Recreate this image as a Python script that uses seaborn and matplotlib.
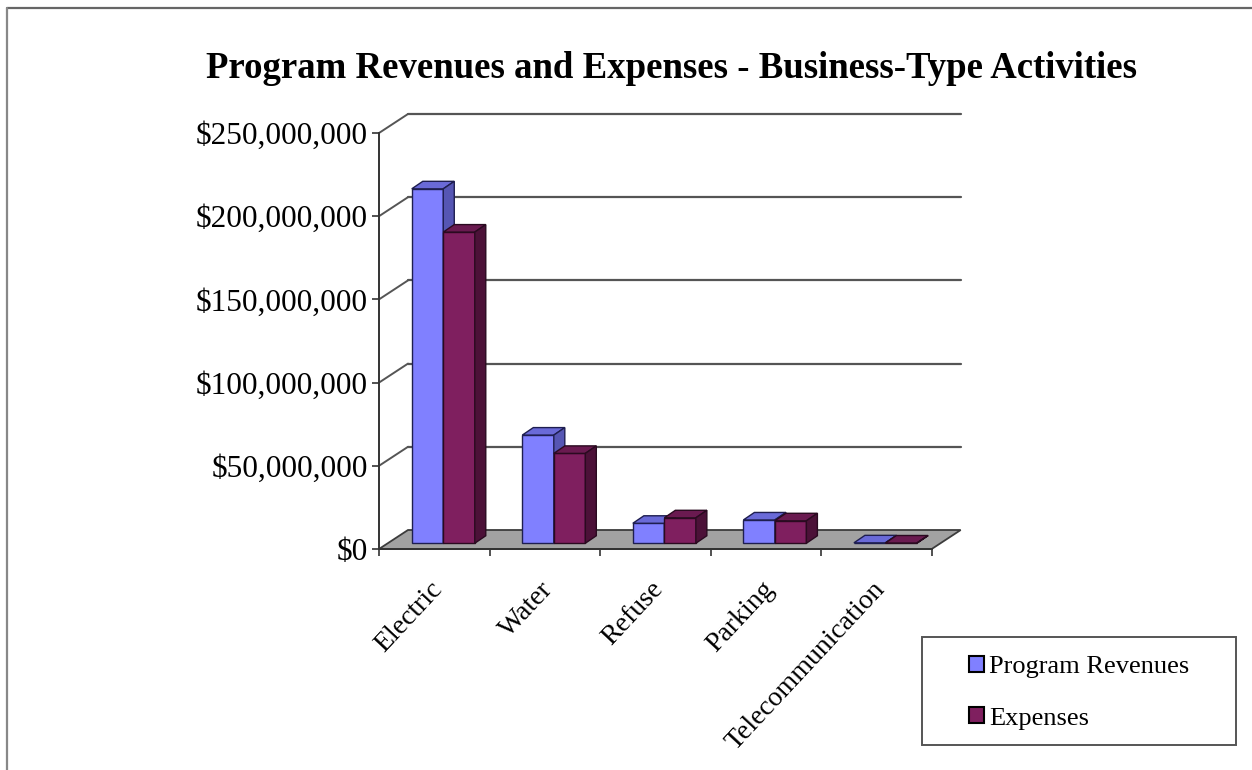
import matplotlib
matplotlib.use("Agg")
import matplotlib.pyplot as plt
import numpy as np
import pandas as pd
import seaborn as sns
from matplotlib.patches import Polygon, Rectangle, Patch
from matplotlib.lines import Line2D
from matplotlib.transforms import ScaledTranslation

# ---- data ---------------------------------------------------------------
categories = ["Electric", "Water", "Refuse", "Parking", "Telecommunication"]
program_revenues = [213_000_000, 65_000_000, 12_000_000, 14_000_000, 250_000]
expenses = [187_000_000, 54_000_000, 15_300_000, 13_500_000, 150_000]
series_names = ["Program Revenues", "Expenses"]
y_ticks = [0, 50_000_000, 100_000_000, 150_000_000, 200_000_000, 250_000_000]
title = "Program Revenues and Expenses - Business-Type Activities"

# ---- styling --------------------------------------------------------------
front_colors = {"Program Revenues": "#8080FF", "Expenses": "#7F1F5F"}
top_colors = {"Program Revenues": "#6A6AD8", "Expenses": "#6A1A50"}
side_colors = {"Program Revenues": "#5656B4", "Expenses": "#4C1138"}
edge_colors = {"Program Revenues": "#1E1E50", "Expenses": "#2A0A20"}

W, H, DPI = 1252, 770, 100
WALL = (29.0, 19.0)        # depth of the floor / back wall, in pixels
BAR_FRONT = (9.0, 5.75)    # front plane of the bars, in pixels
BAR_DEPTH = (11.0, 7.5)    # depth of each bar, in pixels

sns.set_theme(style="white")
plt.rcParams["font.family"] = ["Liberation Serif", "DejaVu Serif"]
plt.rcParams["text.color"] = "black"
plt.rcParams["xtick.color"] = "black"
plt.rcParams["ytick.color"] = "black"

fig = plt.figure(figsize=(W / DPI, H / DPI), dpi=DPI)
fig.patch.set_facecolor("white")


def px_rect(left, top, right, bottom):
    return [left / W, 1 - bottom / H, (right - left) / W, (bottom - top) / H]


ax = fig.add_axes(px_rect(379, 133, 931.7, 549))
ax.set_facecolor("none")

df = pd.DataFrame({
    "Category": categories * 2,
    "Series": [series_names[0]] * len(categories) + [series_names[1]] * len(categories),
    "Value": program_revenues + expenses,
})

sns.barplot(data=df, x="Category", y="Value", hue="Series", hue_order=series_names,
            order=categories, palette=front_colors, saturation=1, width=0.57,
            linewidth=1.0, edgecolor="#202020", legend=False, ax=ax)

ax.set_xlim(-0.5, len(categories) - 0.5)
ax.set_ylim(0, y_ticks[-1])
ax.set_xlabel("")
ax.set_ylabel("")
ax.grid(False)

to_fig = fig.transFigure.inverted()


def disp(x, y, off=(0.0, 0.0)):
    p = ax.transData.transform((x, y))
    return (p[0] + off[0], p[1] + off[1])


def add_poly(points, **kw):
    pts = to_fig.transform(np.array(points))
    poly = Polygon(pts, closed=True, transform=fig.transFigure, clip_on=False, **kw)
    ax.add_patch(poly)
    return poly


def add_line(p0, p1, **kw):
    pts = to_fig.transform(np.array([p0, p1]))
    ln = Line2D(pts[:, 0], pts[:, 1], transform=fig.transFigure, clip_on=False, **kw)
    ax.add_line(ln)
    return ln


x0_axis, x1_axis = -0.5, len(categories) - 0.5

# floor
add_poly([disp(x0_axis, 0), disp(x1_axis, 0), disp(x1_axis, 0, WALL), disp(x0_axis, 0, WALL)],
         facecolor="#A2A2A2", edgecolor="#3C3C3C", linewidth=1.3, zorder=0.5)

# back-wall gridlines and side-wall diagonals
for v in y_ticks[1:]:
    add_line(disp(x0_axis, v, WALL), disp(x1_axis, v, WALL), color="#555555", lw=1.6, zorder=0.6)
    add_line(disp(x0_axis, v), disp(x0_axis, v, WALL), color="#555555", lw=1.4, zorder=0.6)

# bars: move into their plane and give them top and side faces
shift = ScaledTranslation(BAR_FRONT[0] / DPI, BAR_FRONT[1] / DPI, fig.dpi_scale_trans)
for j, (name, cont) in enumerate(zip(series_names, ax.containers)):
    for bar in cont:
        bx, bw, bh = bar.get_x(), bar.get_width(), bar.get_height()
        i = int(round(bx + bw / 2))
        z = 2 + i * 0.1 + j * 0.03
        bar.set_transform(ax.transData + shift)
        bar.set_edgecolor(edge_colors[name])
        bar.set_zorder(z)
        fl = disp(bx, bh, BAR_FRONT)
        fr = disp(bx + bw, bh, BAR_FRONT)
        br = disp(bx + bw, 0, BAR_FRONT)
        d = BAR_DEPTH
        add_poly([fl, fr, (fr[0] + d[0], fr[1] + d[1]), (fl[0] + d[0], fl[1] + d[1])],
                 facecolor=top_colors[name], edgecolor=edge_colors[name], linewidth=1.0, zorder=z + 0.01)
        add_poly([fr, br, (br[0] + d[0], br[1] + d[1]), (fr[0] + d[0], fr[1] + d[1])],
                 facecolor=side_colors[name], edgecolor=edge_colors[name], linewidth=1.0, zorder=z + 0.01)

# axes lines and ticks
for s in ("top", "right"):
    ax.spines[s].set_visible(False)
for s in ("left", "bottom"):
    ax.spines[s].set_color("#333333")
    ax.spines[s].set_linewidth(1.4)
    ax.spines[s].set_zorder(0.7)

ax.set_yticks(y_ticks)
ax.set_yticklabels([f"${v:,.0f}" for v in y_ticks])
ax.tick_params(axis="y", which="major", left=True, direction="out", length=5, width=1.2,
               color="#333333", labelcolor="black", labelsize=22.5, pad=3)

ax.set_xticks(range(len(categories)))
ax.set_xticklabels(categories)
ax.set_xticks(np.arange(len(categories) + 1) - 0.5, minor=True)
ax.tick_params(axis="x", which="major", bottom=True, length=0, labelsize=20, pad=20,
               labelcolor="black")
ax.tick_params(axis="x", which="minor", bottom=True, direction="out", length=5, width=1.2,
               color="#333333")
label_shift = ScaledTranslation(-5 / DPI, 0, fig.dpi_scale_trans)
for lab in ax.get_xticklabels():
    lab.set_rotation(47)
    lab.set_ha("right")
    lab.set_va("top")
    lab.set_rotation_mode("anchor")
    lab.set_transform(lab.get_transform() + label_shift)

# title
fig.text(672 / W, 1 - 68 / H, title, ha="center", va="center", fontsize=26.5,
         fontweight="bold", color="black")

# legend
handles = [Patch(facecolor=front_colors[s], edgecolor="black", linewidth=1.5) for s in series_names]
leg = fig.legend(handles, series_names, loc="upper left", bbox_to_anchor=(969 / W, 1 - 656 / H),
                 frameon=False, fontsize=19, handlelength=0.55, handleheight=0.55,
                 handletextpad=0.2, labelspacing=1.1, borderpad=0, borderaxespad=0)
for t in leg.get_texts():
    t.set_color("black")
fig.add_artist(Rectangle((922 / W, 1 - 745 / H), 314 / W, 108 / H, transform=fig.transFigure,
                         facecolor="none", edgecolor="#555555", linewidth=1.4))

# chart-area border (top and left)
fig.add_artist(Line2D([7 / W, 1], [1 - 8 / H, 1 - 8 / H], transform=fig.transFigure,
                      color="#666666", lw=1.6))
fig.add_artist(Line2D([7 / W, 7 / W], [0, 1 - 8 / H], transform=fig.transFigure,
                      color="#888888", lw=1.6))

fig.savefig("out.png", dpi=DPI, facecolor="white")
